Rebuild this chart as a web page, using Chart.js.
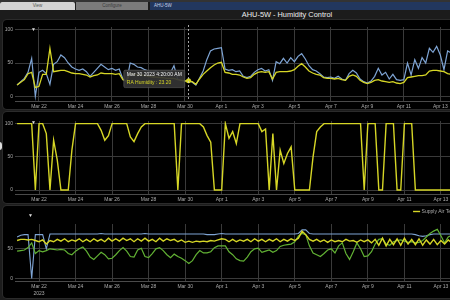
<!DOCTYPE html>
<html>
<head>
<meta charset="utf-8">
<script src="https://cdn.jsdelivr.net/npm/chart.js@4.4.0/dist/chart.umd.min.js"></script>
<style>
html, body { margin:0; padding:0; width:450px; height:300px; overflow:hidden; background:#1c1c1c; font-family:"Liberation Sans", Arial, sans-serif; }
#topline { position:absolute; left:0; top:0; width:450px; height:2px; background:#333; }
.tab { position:absolute; top:2px; height:8px; line-height:8px; font-size:4.5px; text-align:center; }
#tabView { left:0; width:75px; background:#d4d4d4; color:#555; border-radius:2px 2px 0 0; }
#tabConf { left:76px; width:72px; background:#7b7b7b; color:#3c3c3c; }
#tabAhu { left:150px; width:300px; background:#22375e; color:#c9d3e6; text-align:left; text-indent:4px; }
#title { position:absolute; left:0; width:574px; top:10px; text-align:center; color:#eee; font-size:7.4px; line-height:9px; }
.panel { position:absolute; left:3px; width:470px; background:#000; border-radius:4px; box-shadow:0 0 0 1px #2b2b2b; }
.panel canvas { position:absolute; left:0; top:0; }
.marker { position:absolute; color:#ddd; font-size:5px; line-height:5px; }
#handle { position:absolute; left:-3px; top:142px; width:5px; height:8px; border-radius:3px; background:#ddd; }
</style>
</head>
<body>
<div id="topline"></div>
<div class="tab" id="tabView">View</div>
<div class="tab" id="tabConf">Configure</div>
<div class="tab" id="tabAhu">AHU-5W</div>
<div id="title">AHU-5W - Humidity Control</div>

<div class="panel" style="top:20px;height:89px;"><canvas id="humidity-chart" width="458" height="89"></canvas></div>
<div class="panel" style="top:112px;height:91px;"><canvas id="output-chart" width="458" height="91"></canvas></div>
<div class="panel" style="top:206px;height:92px;"><canvas id="temp-chart" width="458" height="92"></canvas></div>

<div class="marker" style="left:31px;top:27px;">▼</div>
<div class="marker" style="left:31px;top:120px;">▼</div>
<div class="marker" style="left:28px;top:213px;">▼</div>
<div id="handle"></div>

<script>
// sample times in days of March (Apr 1 = day 32), one sample every 0.2 day
const startDay = 20.8;
const stepDays = 0.2;
const tickDays = [22, 24, 26, 28, 30, 32, 34, 36, 38, 40, 42, 44];
const tickLabels = ['Mar 22', 'Mar 24', 'Mar 26', 'Mar 28', 'Mar 30', 'Apr 1', 'Apr 3', 'Apr 5', 'Apr 7', 'Apr 9', 'Apr 11', 'Apr 13'];
const humidityTicks = [0, 50, 100];
const tempTicks = [0, 50];

// panel 1 - humidity (%)
const raHumidity = [
    17, 21, 25, 34, 36, 13, 15, 33, 33, 72,
    37, 38, 39, 39, 37, 35, 34, 34, 33, 32,
    29, 31, 32, 35, 34, 34, 34, 33, 34, 25,
    23, 34, 33, 32, 32, 31, 30, 29, 29, 28,
    28, 27, 27, 27, 25, 24, 23, 23.2, 22, 18,
    26, 33, 38, 43, 47, 50, 51, 36, 35, 33,
    33, 32, 29, 27, 28, 33, 36, 37, 36, 37,
    26, 36, 37, 37, 37, 38, 40, 45, 49, 44,
    38, 35, 33, 32, 28, 27, 27, 26, 27, 25,
    24, 30, 32, 30, 24, 21, 19, 21, 24, 25,
    23, 22, 21, 22, 20, 19, 21, 28, 29, 30,
    31, 31, 32, 38, 39, 39, 38, 37, 34, 33
];
const saHumidity = [
    17, 22, 27, 36, 57, 0, 36, 39, 34, 18,
    48, 52, 62, 58, 50, 44, 41, 39, 41, 37,
    30, 36, 42, 48, 44, 40, 42, 39, 41, 26,
    22, 50, 48, 44, 43, 40, 38, 36, 38, 35,
    36, 33, 35, 46, 26, 24, 23, 24, 21, 17,
    27, 38, 55, 68, 71, 72, 73, 41, 39, 40,
    37, 38, 30, 28, 30, 36, 40, 42, 38, 40,
    24, 52, 49, 57, 50, 58, 52, 60, 64, 56,
    46, 40, 38, 34, 29, 28, 29, 27, 30, 26,
    24, 34, 39, 35, 26, 22, 20, 23, 30, 42,
    32, 36, 26, 33, 25, 24, 25, 50, 32, 55,
    42, 58, 50, 72, 66, 75, 62, 40, 68, 65
];

// panel 2 - humidifier output (%)
const humidifierOutput = [
    100, 100, 100, 100, 100, 0, 100, 100, 85, 0,
    75, 45, 0, 0, 0, 60, 100, 100, 100, 100,
    100, 100, 100, 90, 75, 82, 100, 100, 100, 100,
    100, 80, 73, 85, 95, 100, 100, 100, 100, 100,
    100, 100, 100, 100, 0, 100, 100, 100, 100, 100,
    100, 95, 82, 72, 0, 0, 0, 100, 78, 88,
    70, 100, 100, 100, 100, 100, 100, 88, 92, 0,
    85, 0, 60, 40, 55, 65, 0, 0, 0, 0,
    0, 50, 88, 95, 100, 100, 100, 100, 100, 100,
    100, 100, 100, 100, 100, 0, 100, 100, 100, 0,
    0, 100, 100, 100, 0, 0, 100, 100, 100, 0,
    0, 0, 0, 0, 0, 0, 0, 0, 0, 0
];

// panel 3 - temperatures
const supplyAirTemp = [
    64, 66, 66, 65, 66, 64, 62, 65, 58, 64,
    62, 66, 63, 67, 62, 65, 63, 67, 62, 66,
    62, 67, 63, 66, 62, 68, 63, 67, 63, 68,
    64, 67, 62, 67, 63, 68, 63, 66, 62, 68,
    63, 67, 64, 66, 62, 65, 61, 63, 61, 63,
    62, 63, 62, 64, 63, 65, 67, 66, 62, 66,
    62, 65, 63, 66, 62, 67, 63, 66, 62, 66,
    63, 67, 62, 66, 63, 67, 64, 68, 80, 74,
    66, 63, 66, 62, 65, 61, 65, 62, 64, 62,
    66, 63, 64, 61, 65, 62, 65, 60, 66, 56,
    68, 55, 66, 57, 67, 56, 68, 58, 66, 57,
    67, 56, 65, 58, 66, 57, 64, 58, 65, 60
];
const returnAirTemp = [
    70, 73, 74, 74, 0, 74, 74, 74, 50, 75,
    75, 75, 75, 75, 75, 75, 75, 75, 75, 75,
    75, 75, 75, 76, 75, 75, 75, 75, 75, 75,
    75, 75, 75, 75, 75, 76, 75, 75, 75, 75,
    75, 75, 75, 75, 75, 75, 75, 75, 75, 75,
    75, 75, 74, 74, 74, 75, 76, 75, 75, 75,
    75, 75, 75, 75, 75, 75, 75, 75, 75, 75,
    75, 75, 75, 75, 75, 75, 75, 76, 82, 82,
    76, 75, 75, 75, 75, 75, 75, 75, 75, 75,
    75, 75, 75, 75, 75, 75, 75, 75, 75, 75,
    75, 75, 75, 75, 75, 75, 75, 75, 75, 74,
    72, 71, 72, 74, 75, 75, 75, 75, 75, 75
];
const outsideAirTemp = [
    46, 47, 48, 52, 60, 42, 47, 45, 47, 50,
    49, 48, 49, 48, 42, 40, 46, 50, 53, 46,
    36, 32, 38, 44, 40, 33, 34, 40, 47, 52,
    46, 37, 36, 48, 51, 37, 35, 42, 50, 52,
    47, 40, 35, 41, 37, 34, 30, 25, 30, 40,
    47, 43, 43, 45, 52, 55, 55, 55, 45, 40,
    33, 30, 29, 36, 45, 50, 51, 44, 46, 48,
    44, 47, 54, 56, 57, 58, 62, 72, 76, 74,
    55, 43, 40, 37, 42, 48, 50, 43, 55, 60,
    42, 32, 45, 60, 50, 37, 38, 45, 58, 66,
    67, 58, 56, 62, 64, 65, 63, 61, 62, 60,
    61, 64, 70, 76, 80, 83, 72, 60, 70, 73
];

const tooltipIndex = 47;
const tooltipTitle = 'Mar 30 2023 4:20:00 AM';

const yellow = 'rgb(214, 214, 38)';
const blue = 'rgb(126, 164, 212)';
const green = 'rgb(98, 178, 52)';
const gridColor = '#3a3a3a';

Chart.defaults.font.family = '"Liberation Sans", Arial, sans-serif';
Chart.defaults.font.size = 5;
Chart.defaults.color = '#aaa';

const toPoints = vals => vals.map((v, i) => ({x: startDay + i * stepDays, y: v}));

function lineSet(label, vals, color, width) {
    return {
        label: label,
        data: toPoints(vals),
        borderColor: color,
        backgroundColor: color,
        borderWidth: width || 1.2,
        pointRadius: 0,
        pointHoverRadius: 0,
        tension: 0
    };
}

function xScale(axisHeight, firstLabel) {
    return {
        type: 'linear',
        min: 20.686,
        max: 45.098,
        afterBuildTicks: s => { s.ticks = tickDays.map(v => ({value: v})); },
        afterFit: s => { s.height = axisHeight; },
        grid: {color: gridColor, drawTicks: false},
        border: {display: true, color: '#4a4a4a'},
        ticks: {
            padding: 2,
            maxRotation: 0,
            autoSkip: false,
            font: {size: 5, lineHeight: 1.4},
            callback: (v, i) => (i === 0 && firstLabel) ? firstLabel : tickLabels[i]
        }
    };
}

function yScale(min, max, ticks) {
    return {
        min: min,
        max: max,
        afterBuildTicks: s => { s.ticks = ticks.map(v => ({value: v})); },
        afterFit: s => { s.width = 12; },
        grid: {color: gridColor, drawTicks: false},
        border: {display: false},
        ticks: {padding: 2}
    };
}

// dashed cursor line at the active point
const cursorLine = {
    id: 'cursorLine',
    afterDatasetsDraw(chart) {
        const act = chart.tooltip && chart.tooltip.getActiveElements();
        if (!act || !act.length) return;
        const x = act[0].element.x;
        const ctx = chart.ctx;
        ctx.save();
        ctx.strokeStyle = '#cfcfcf';
        ctx.lineWidth = 0.8;
        ctx.setLineDash([2, 2]);
        ctx.beginPath();
        ctx.moveTo(x, chart.chartArea.top - 2);
        ctx.lineTo(x, chart.chartArea.bottom);
        ctx.stroke();
        ctx.restore();
    }
};

Chart.Tooltip.positioners.pinned = function (items) {
    if (!items.length) return false;
    return {x: items[0].element.x, y: items[0].element.y - 2};
};

const raSet = lineSet('RA Humidity', raHumidity, yellow, 1.3);
raSet.pointHoverRadius = 2.5;
raSet.pointHoverBorderWidth = 0;
raSet.pointHoverBackgroundColor = yellow;

const humidityChart = new Chart(document.getElementById('humidity-chart'), {
    type: 'line',
    data: {datasets: [raSet, lineSet('SA Humidity', saHumidity, blue, 1.2)]},
    options: {
        responsive: false,
        animation: false,
        events: [],
        layout: {padding: {top: 7, left: 0, right: 0, bottom: 0}},
        plugins: {
            legend: {display: false},
            tooltip: {
                position: 'pinned',
                xAlign: 'right',
                yAlign: 'center',
                displayColors: false,
                backgroundColor: 'rgba(52, 52, 52, 0.92)',
                borderColor: '#6a6a6a',
                borderWidth: 0.5,
                titleColor: '#eee',
                bodyColor: yellow,
                titleFont: {size: 5, weight: 'normal'},
                bodyFont: {size: 5},
                padding: {x: 3, y: 2},
                titleMarginBottom: 1.5,
                caretSize: 0,
                caretPadding: 4,
                cornerRadius: 1.5,
                filter: item => item.datasetIndex === 0,
                callbacks: {
                    title: () => tooltipTitle,
                    label: c => 'RA Humidity : ' + c.parsed.y.toFixed(2)
                }
            }
        },
        scales: {
            x: xScale(8),
            y: yScale(-7, 104, humidityTicks)
        }
    },
    plugins: [cursorLine]
});

const active = [{datasetIndex: 0, index: tooltipIndex}];
const pt = humidityChart.getDatasetMeta(0).data[tooltipIndex];
humidityChart.setActiveElements(active);
humidityChart.tooltip.setActiveElements(active, {x: pt.x, y: pt.y});
humidityChart.update();

new Chart(document.getElementById('output-chart'), {
    type: 'line',
    data: {datasets: [lineSet('Humidifier Output', humidifierOutput, yellow, 1.4)]},
    options: {
        responsive: false,
        animation: false,
        events: [],
        layout: {padding: {top: 9, left: 0, right: 0, bottom: 0}},
        plugins: {legend: {display: false}, tooltip: {enabled: false}},
        scales: {
            x: xScale(9),
            y: yScale(-6, 104, humidityTicks)
        }
    }
});

new Chart(document.getElementById('temp-chart'), {
    type: 'line',
    data: {datasets: [
        lineSet('Supply Air Temp', supplyAirTemp, yellow, 1.4),
        lineSet('Outside Air Temp', outsideAirTemp, green, 1.2),
        lineSet('Return Air Temp', returnAirTemp, blue, 1.1)
    ]},
    options: {
        responsive: false,
        animation: false,
        events: [],
        plugins: {
            legend: {
                display: true,
                position: 'top',
                align: 'end',
                labels: {
                    filter: item => item.datasetIndex === 0,
                    usePointStyle: true,
                    pointStyle: 'line',
                    boxWidth: 6,
                    padding: 3,
                    color: '#aaa',
                    font: {size: 5}
                }
            },
            tooltip: {enabled: false}
        },
        scales: {
            x: xScale(17, ['Mar 22', '2023']),
            y: yScale(-4.5, 92, tempTicks)
        }
    }
});
</script>
</body>
</html>
